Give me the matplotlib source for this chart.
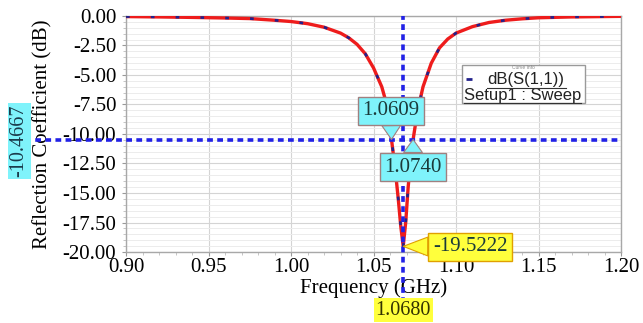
import numpy as np
import matplotlib
matplotlib.use("Agg")
import matplotlib.pyplot as plt
from matplotlib.patches import Rectangle
from matplotlib.ticker import MultipleLocator

# S11 trace (GHz, dB)
freq_ghz = [0.90, 0.92, 0.94, 0.96, 0.975, 0.99, 1.00, 1.01, 1.02, 1.03,
            1.035, 1.04, 1.045, 1.05, 1.055, 1.058, 1.0609, 1.063, 1.065,
            1.0665, 1.068, 1.0695, 1.071, 1.0725, 1.074, 1.0765, 1.08,
            1.085, 1.09, 1.095, 1.10, 1.11, 1.12, 1.13, 1.14, 1.15, 1.17, 1.20]
s11_db = [-0.05, -0.08, -0.12, -0.17, -0.22, -0.36, -0.47, -0.65, -0.95, -1.45,
          -1.85, -2.4, -3.2, -4.4, -6.0, -7.5, -10.4667, -12.8, -15.5,
          -17.8, -19.5222, -17.5, -14.5, -12.2, -10.4667, -8.2, -6.0,
          -4.0, -2.7, -1.95, -1.45, -0.9, -0.55, -0.36, -0.24, -0.15, -0.08, -0.03]

level_db = -10.4667
f_low, f_high = 1.0609, 1.0740
f_min, s11_min = 1.0680, -19.5222

x_ticks = [0.90, 0.95, 1.00, 1.05, 1.10, 1.15, 1.20]
y_ticks = [0.0, -2.5, -5.0, -7.5, -10.0, -12.5, -15.0, -17.5, -20.0]

CYAN = "#7ff3fb"
YELLOW = "#ffff3c"
BLUE = "#2222e6"
SERIF = "Liberation Serif"
SANS = "Liberation Sans"

plt.rcParams["font.family"] = [SERIF, "DejaVu Serif"]
plt.rcParams["font.size"] = 15

fig = plt.figure(figsize=(6.43, 3.23), dpi=100)
ax = fig.add_axes([0.196, 0.2198, 0.7698, 0.7307])

ax.set_xlim(0.90, 1.20)
ax.set_ylim(-20.0, 0.0)
ax.set_xticks(x_ticks)
ax.set_yticks(y_ticks)
ax.set_xticklabels([f"{v:.2f}" for v in x_ticks])
ax.set_yticklabels([f"{v:.2f}" for v in y_ticks])
ax.xaxis.set_minor_locator(MultipleLocator(0.01))
ax.yaxis.set_minor_locator(MultipleLocator(0.5))
ax.tick_params(which="major", length=3, color="#999999", labelsize=15)
ax.tick_params(axis="y", which="major", pad=4)
ax.tick_params(axis="x", which="major", pad=1)
ax.tick_params(which="minor", length=2, color="#bbbbbb")
ax.grid(which="major", color="#d4d4d4", lw=0.8)
ax.grid(which="minor", axis="y", color="#ececec", lw=0.7)
ax.set_axisbelow(True)
for sp in ax.spines.values():
    sp.set_color("#a8a8a8")
    sp.set_linewidth(1.0)

ax.set_xlabel("Frequency (GHz)", fontsize=15)
ax.set_ylabel("Reflection Coefficient (dB)", fontsize=15)
ax.yaxis.set_label_coords(-0.148, 0.5)
ax.xaxis.set_label_coords(0.5, -0.112)

# trace: red line with dark blue marks on it
ax.plot(freq_ghz, s11_db, color="#ee1c1c", lw=2.4, solid_joinstyle="round", zorder=3)
ax.plot(freq_ghz, s11_db, color="#22228c", lw=1.9, dashes=(1.4, 8), zorder=4)

# marker cross-hair lines
ax.axhline(level_db, xmin=-0.225, xmax=1.0, color=BLUE, lw=2.6,
           dashes=(1.6, 1.2), clip_on=False, zorder=5)
ax.axvline(f_min, ymin=-0.215, ymax=1.0, color=BLUE, lw=2.6,
           dashes=(1.6, 1.2), clip_on=False, zorder=5)

# axis value labels
ax.text(-0.216, 0.47, f"{level_db:.4f}", transform=ax.transAxes, rotation=90,
        ha="center", va="center", fontsize=14.5, color="#1a3a4a",
        bbox=dict(boxstyle="square,pad=0.1", fc=CYAN, ec="none"), zorder=6)
ax.annotate(f"{f_min:.4f}", xy=(f_min, 0), xycoords=("data", "axes fraction"),
            xytext=(0, -58), textcoords="offset pixels", ha="center", va="center",
            fontsize=14.5, color="#333300",
            bbox=dict(boxstyle="square,pad=0.1", fc=YELLOW, ec="none"), zorder=6)

# marker callouts
def callout(text, tip, box, fc, ec):
    ax.annotate(text, xy=tip, xytext=box, ha="center", va="center",
                fontsize=15, color="#1a3a3a", zorder=7,
                bbox=dict(boxstyle="square,pad=0.22", fc=fc, ec=ec, lw=1.0),
                arrowprops=dict(arrowstyle="wedge,tail_width=0.9,shrink_factor=0.5",
                                fc=fc, ec=ec, lw=0.8, shrinkA=0, shrinkB=0))

callout(f"{f_low:.4f}", (f_low, level_db), (1.0606, -8.05), CYAN, "#a08080")
callout(f"{f_high:.4f}", (f_high, level_db), (1.0739, -12.8), CYAN, "#a08080")
callout(f"{s11_min:.4f}", (f_min, s11_min), (1.1085, -19.55), YELLOW, "#e0a000")

# legend box (HFSS style)
ax.add_patch(Rectangle((0.679, 0.631), 0.248, 0.161, transform=ax.transAxes,
                       fc="white", ec="#9a9a9a", lw=1.0, zorder=6))
ax.text(0.803, 0.781, "Curve Info", transform=ax.transAxes, ha="center", va="center",
        family=SANS, fontsize=3.5, color="#888888", zorder=7)
ax.plot([0.693], [0.733], transform=ax.transAxes, marker="_", ms=4, mew=2,
        color="#22228c", zorder=7)
ax.text(0.729, 0.729, "dB(S(1,1))", transform=ax.transAxes, ha="left", va="center",
        family=SANS, fontsize=12, color="#222222", zorder=7)
ax.text(0.683, 0.662, "Setup1 : Sweep", transform=ax.transAxes, ha="left", va="center",
        family=SANS, fontsize=12, color="#222222", zorder=7)
ax.plot([0.729, 0.888], [0.695, 0.695], transform=ax.transAxes, color="#333333", lw=0.8, zorder=7)
ax.plot([0.683, 0.920], [0.632, 0.632], transform=ax.transAxes, color="#333333", lw=0.8, zorder=7)

fig.savefig("out.png", dpi=100)
